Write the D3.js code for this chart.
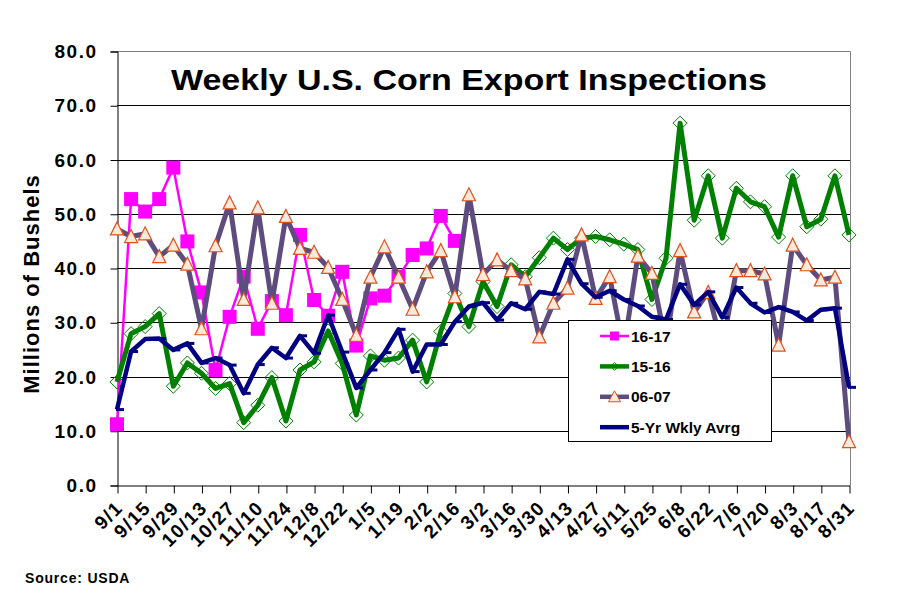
<!DOCTYPE html>
<html>
<head>
<meta charset="utf-8">
<script src="https://cdn.jsdelivr.net/npm/d3@7"></script>
<style>
  body { margin: 0; background: #fff; }
  text { font-family: Arial, "Liberation Sans", sans-serif; font-weight: bold; fill: #000; }
</style>
</head>
<body>
<svg id="chart" width="899" height="613"></svg>
<script>
// week labels shown under the axis (every second week)
var tickLabels = ["9/1", "9/15", "9/29", "10/13", "10/27", "11/10", "11/24", "12/8", "12/22",
  "1/5", "1/19", "2/2", "2/16", "3/2", "3/16", "3/30", "4/13", "4/27", "5/11", "5/25",
  "6/8", "6/22", "7/6", "7/20", "8/3", "8/17", "8/31"];

var yTicks = [0, 10, 20, 30, 40, 50, 60, 70, 80];

// weekly inspections, millions of bushels (week 0 = 9/1 ... week 52 = 8/31)
var crop1617 = [11.2, 52.7, 50.4, 52.7, 58.5, 44.9, 35.5, 21.2, 31.0, 38.4, 28.8, 33.9, 31.3,
  46.1, 34.1, 31.2, 39.3, 25.7, 34.4, 34.9, 38.4, 42.4, 43.6, 49.6, 45.0];

var crop1516 = [19.0, 27.9, 29.2, 31.6, 18.2, 22.5, 20.6, 17.8, 18.7, 11.5, 14.7, 19.8, 11.8,
  21.2, 22.7, 28.4, 22.4, 12.9, 23.8, 23.0, 23.4, 26.7, 19.0, 28.3, 35.3, 29.2, 37.5, 32.9,
  40.6, 38.4, 41.9, 45.5, 43.4, 45.5, 45.8, 45.2, 44.4, 43.4, 34.2, 41.8, 66.7, 48.8, 57.0,
  45.5, 54.7, 52.2, 51.3, 45.7, 57.0, 47.6, 49.0, 57.0, 46.1];

var crop0607 = [47.2, 45.8, 46.3, 42.1, 44.2, 40.7, 28.8, 44.1, 52.0, 34.2, 51.1, 33.5, 49.5,
  43.6, 42.9, 40.1, 34.2, 27.6, 38.3, 43.9, 38.3, 32.4, 39.3, 43.2, 34.7, 53.5, 38.8, 41.5,
  39.5, 38.0, 27.3, 33.5, 36.3, 46.1, 34.4, 38.4, 25.0, 42.2, 39.0, 26.0, 43.2, 31.9, 35.5,
  25.5, 39.5, 39.5, 38.9, 25.8, 44.2, 40.6, 37.8, 38.3, 8.0];

var avg5yr = [13.9, 24.6, 26.9, 27.0, 24.9, 26.1, 22.5, 23.4, 22.1, 16.9, 22.2, 25.3, 23.4,
  27.5, 24.3, 31.3, 24.5, 17.9, 21.2, 24.4, 28.7, 20.9, 25.9, 25.9, 30.1, 32.9, 33.6, 30.4,
  33.5, 32.4, 35.6, 35.2, 41.6, 37.1, 34.6, 35.8, 34.2, 33.0, 31.0, 30.5, 37.0, 33.2, 35.6,
  30.9, 36.4, 33.5, 31.8, 32.8, 31.9, 30.3, 32.3, 32.6, 18.0];

var seriesNames = ["16-17", "15-16", "06-07", "5-Yr Wkly Avrg"];


var svg = d3.select("#chart");
svg.append("rect").attr("width", 899).attr("height", 613).attr("fill", "#fff");

// plot area edges
var plotLeft = 117, plotRight = 849, plotTop = 51, plotBottom = 485;

var x = d3.scaleLinear().domain([0, 52]).range([plotLeft, plotRight]);
var y = d3.scaleLinear().domain([0, 80]).range([plotBottom, plotTop]);

// horizontal gridlines (top one is the grey plot border)
svg.append("g").selectAll("line")
  .data(yTicks.slice(1))
  .join("line")
  .attr("x1", plotLeft).attr("x2", plotRight + 1.5)
  .attr("y1", d => Math.round(y(d)) + 0.5).attr("y2", d => Math.round(y(d)) + 0.5)
  .attr("stroke", d => d === 80 ? "#808080" : "#000")
  .attr("stroke-width", 1);

// grey right border
svg.append("line")
  .attr("x1", plotRight + 1.5).attr("x2", plotRight + 1.5)
  .attr("y1", Math.round(y(80)) + 0.5).attr("y2", plotBottom + 0.5)
  .attr("stroke", "#808080");

// y axis
var yAxis = d3.axisLeft(y).tickValues(yTicks).tickFormat(d3.format(".1f")).tickSize(7).tickPadding(13);
var gy = svg.append("g").attr("transform", "translate(" + (plotLeft + 0.5) + ",0.5)").call(yAxis);
gy.select(".domain").attr("stroke", "#000");
gy.selectAll(".tick line").attr("stroke", "#000");
gy.selectAll(".tick text")
  .attr("font-size", 19).attr("letter-spacing", 1.5)
  .style("font-family", "Arial, 'Liberation Sans', sans-serif").style("font-weight", "bold")
  .attr("fill", "#000");

// x axis: one tick every two weeks, no built-in labels
var tickWeeks = tickLabels.map((d, i) => i * 2);
var xAxis = d3.axisBottom(x).tickValues(tickWeeks).tickFormat("").tickSize(8).tickSizeOuter(0);
var gx = svg.append("g").attr("transform", "translate(0.5," + (plotBottom + 0.5) + ")").call(xAxis);
gx.select(".domain").attr("stroke", "#000");
gx.selectAll(".tick line").attr("stroke", "#000");

// rotated week labels
svg.append("g").selectAll("text")
  .data(tickLabels)
  .join("text")
  .attr("transform", (d, i) => "translate(" + (x(i * 2) + 7) + ",509) rotate(-45)")
  .attr("text-anchor", "end")
  .attr("font-size", 19)
  .attr("letter-spacing", 1.5)
  .text(d => d);

// axis title
svg.append("text")
  .attr("transform", "translate(39,284) rotate(-90)")
  .attr("text-anchor", "middle")
  .attr("font-size", 22)
  .attr("letter-spacing", 1)
  .text("Millions of Bushels");

// chart title
svg.append("text")
  .attr("x", 469).attr("y", 90)
  .attr("text-anchor", "middle")
  .attr("font-size", 30)
  .attr("textLength", 596).attr("lengthAdjust", "spacingAndGlyphs")
  .text("Weekly U.S. Corn Export Inspections");

svg.append("text")
  .attr("x", 25).attr("y", 583)
  .attr("font-size", 14)
  .attr("letter-spacing", 0.8)
  .text("Source: USDA");

var line = d3.line().x((d, i) => x(i)).y(d => y(d));

// marker shapes
function square(g, cx, cy) {
  g.append("rect").attr("x", cx - 7).attr("y", cy - 7).attr("width", 14).attr("height", 14)
    .attr("fill", "#FF00FF");
}
function diamond(g, cx, cy) {
  g.append("path")
    .attr("d", "M" + cx + "," + (cy - 7) + "L" + (cx + 7) + "," + cy + "L" + cx + "," + (cy + 7) + "L" + (cx - 7) + "," + cy + "Z")
    .attr("fill", "none").attr("stroke", "#008000").attr("stroke-width", 1);
}
function triangle(g, cx, cy) {
  g.append("path")
    .attr("d", "M" + cx + "," + (cy - 7) + "L" + (cx + 6.5) + "," + (cy + 6) + "L" + (cx - 6.5) + "," + (cy + 6) + "Z")
    .attr("fill", "#FDE9D9").attr("stroke", "#E0501A").attr("stroke-width", 1.2);
}
function dash(g, cx, cy) {
  g.append("rect").attr("x", cx - 1).attr("y", cy - 1.5).attr("width", 8).attr("height", 3)
    .attr("fill", "#000080");
}

var series = [
  { values: crop1617, color: "#FF00FF", width: 2.5, marker: square },
  { values: crop1516, color: "#008000", width: 5, marker: diamond },
  { values: crop0607, color: "#5E4C7E", width: 5, marker: triangle },
  { values: avg5yr, color: "#000080", width: 4.5, marker: dash }
];

series.forEach((s) => {
  var g = svg.append("g");
  g.append("path")
    .attr("d", line(s.values))
    .attr("fill", "none")
    .attr("stroke", s.color)
    .attr("stroke-width", s.width)
    .attr("stroke-linejoin", "round");
  s.values.forEach((v, i) => s.marker(g, x(i), y(v)));
});

// legend box
var legend = svg.append("g");
legend.append("rect")
  .attr("x", 568.5).attr("y", 320.5).attr("width", 203).attr("height", 121)
  .attr("fill", "#fff").attr("stroke", "#000");

series.forEach((s, i) => {
  var ly = 336 + i * 30.4;
  legend.append("line")
    .attr("x1", 600).attr("x2", 629).attr("y1", ly).attr("y2", ly)
    .attr("stroke", s.color).attr("stroke-width", s.width === 2.5 ? 2.5 : 4.5);
  if (i === 0) {
    legend.append("rect").attr("x", 610).attr("y", ly - 4.5).attr("width", 9).attr("height", 9).attr("fill", "#FF00FF");
  } else if (i === 1) {
    legend.append("path").attr("d", "M614.5," + (ly - 4) + "l4,4l-4,4l-4,-4z")
      .attr("fill", "none").attr("stroke", "#008000");
  } else if (i === 2) {
    legend.append("path").attr("d", "M614.5," + (ly - 6) + "l6,11h-12z")
      .attr("fill", "#FDE9D9").attr("stroke", "#E0501A");
  }
  legend.append("text")
    .attr("x", 631).attr("y", ly + 5.5)
    .attr("font-size", 15.5)
    .text(seriesNames[i]);
});
</script>
</body>
</html>
